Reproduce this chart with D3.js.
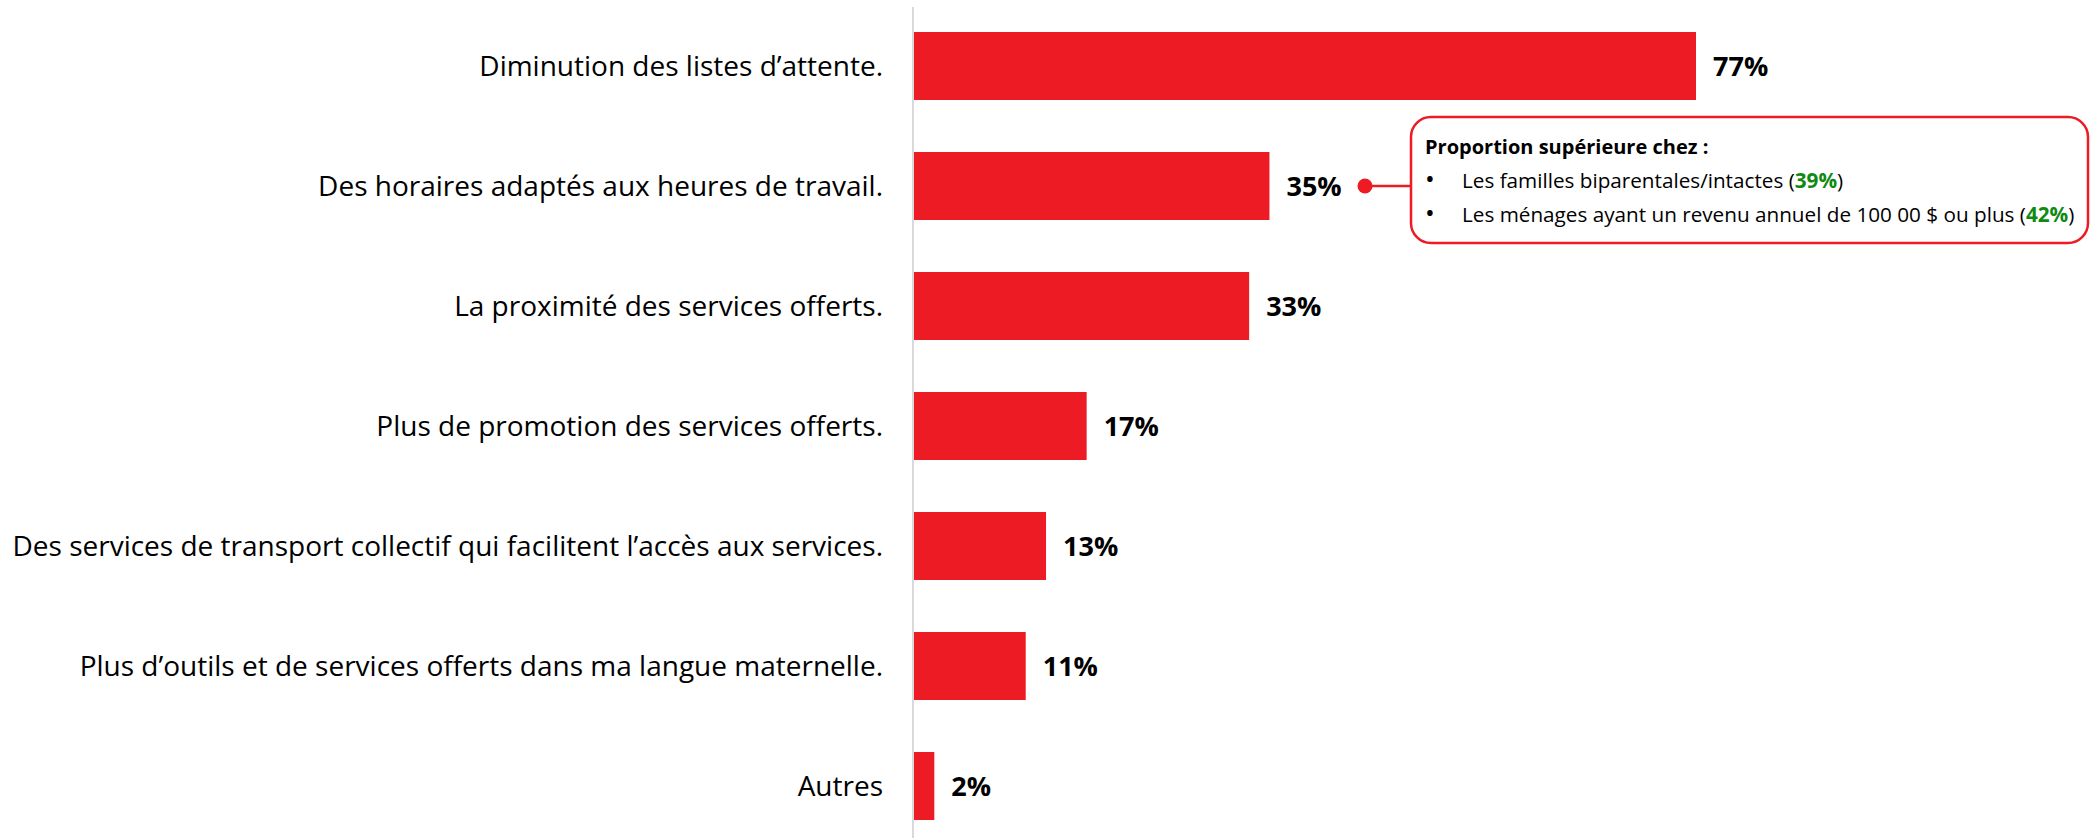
<!DOCTYPE html>
<html>
<head>
<meta charset="utf-8" />
<title>Facteurs</title>
<script src="https://d3js.org/d3.v7.min.js"></script>
<style>
  body { margin: 0; background: white; }
  svg { display: block; }
</style>
</head>
<body>
<svg id="viz"></svg>
<script>

// data
var categories = [
  "Diminution des listes d\u2019attente.",
  "Des horaires adaptés aux heures de travail.",
  "La proximité des services offerts.",
  "Plus de promotion des services offerts.",
  "Des services de transport collectif qui facilitent l\u2019accès aux services.",
  "Plus d\u2019outils et de services offerts dans ma langue maternelle.",
  "Autres"
];
var values = [77, 35, 33, 17, 13, 11, 2];

// callout on the second bar
var calloutTitle = "Proportion supérieure chez :";
var calloutItems = [
  "Les familles biparentales/intactes",
  "Les ménages ayant un revenu annuel de 100 00 $ ou plus"
];
var calloutValues = [39, 42];
var calloutIndex = 1;

var width = 2091, height = 838;
var red = "#ed1c24", green = "#0f8a12";
var font = "'Open Sans', 'Liberation Sans', Arial, sans-serif";

var svg = d3.select("#viz").attr("width", width).attr("height", height);

var x = d3.scaleLinear().domain([0, 77]).range([914, 1696]);
var y = d3.scaleBand()
  .domain(categories)
  .range([6, 846])
  .paddingInner(52 / 120)
  .paddingOuter(26 / 120);

var data = categories.map(function(c, i) { return {cat: c, val: values[i]}; });

// vertical axis line
svg.append("line")
  .attr("x1", 913).attr("x2", 913)
  .attr("y1", 7).attr("y2", height)
  .attr("stroke", "#d9d9d9").attr("stroke-width", 2);

svg.selectAll("rect.bar")
  .data(data)
  .enter().append("rect")
  .attr("class", "bar")
  .attr("x", x(0))
  .attr("y", function(d) { return y(d.cat); })
  .attr("width", function(d) { return x(d.val) - x(0); })
  .attr("height", y.bandwidth())
  .attr("fill", red);

// category labels
svg.selectAll("text.cat")
  .data(data)
  .enter().append("text")
  .attr("class", "cat")
  .attr("x", 883)
  .attr("y", function(d) { return y(d.cat) + y.bandwidth() / 2; })
  .attr("dy", "0.35em")
  .attr("text-anchor", "end")
  .style("font-family", font)
  .style("font-size", "28px")
  .attr("fill", "#000")
  .text(function(d) { return d.cat; });

// value labels
svg.selectAll("text.val")
  .data(data)
  .enter().append("text")
  .attr("class", "val")
  .attr("x", function(d) { return x(d.val) + 17; })
  .attr("y", function(d) { return y(d.cat) + y.bandwidth() / 2; })
  .attr("dy", "0.36em")
  .style("font-family", font)
  .style("font-size", "27px")
  .style("font-weight", "bold")
  .attr("fill", "#000")
  .text(function(d) { return d.val + "%"; });

// callout
var cy = y(categories[calloutIndex]) + y.bandwidth() / 2;
var box = {x: 1411, y: 117, w: 677, h: 126};

svg.append("line")
  .attr("x1", 1365).attr("x2", box.x)
  .attr("y1", cy).attr("y2", cy)
  .attr("stroke", red).attr("stroke-width", 2.5);
svg.append("circle")
  .attr("cx", 1365).attr("cy", cy).attr("r", 7.5)
  .attr("fill", red);

svg.append("rect")
  .attr("x", box.x).attr("y", box.y)
  .attr("width", box.w).attr("height", box.h)
  .attr("rx", 20).attr("ry", 20)
  .attr("fill", "white")
  .attr("stroke", red).attr("stroke-width", 2.5);

svg.append("text")
  .attr("x", box.x + 14).attr("y", box.y + 37)
  .style("font-family", font)
  .style("font-size", "20px")
  .style("font-weight", "bold")
  .text(calloutTitle);

calloutItems.forEach(function(item, i) {
  var by = box.y + 71 + i * 34;
  svg.append("text")
    .attr("x", box.x + 14).attr("y", by)
    .style("font-family", font)
    .style("font-size", "26px")
    .text("\u2022");
  var t = svg.append("text")
    .attr("x", box.x + 51).attr("y", by)
    .style("font-family", font)
    .style("font-size", "20.7px");
  t.append("tspan").text(item + " (");
  t.append("tspan").attr("fill", green).style("font-weight", "bold").text(calloutValues[i] + "%");
  t.append("tspan").text(")");
});

</script>
</body>
</html>
